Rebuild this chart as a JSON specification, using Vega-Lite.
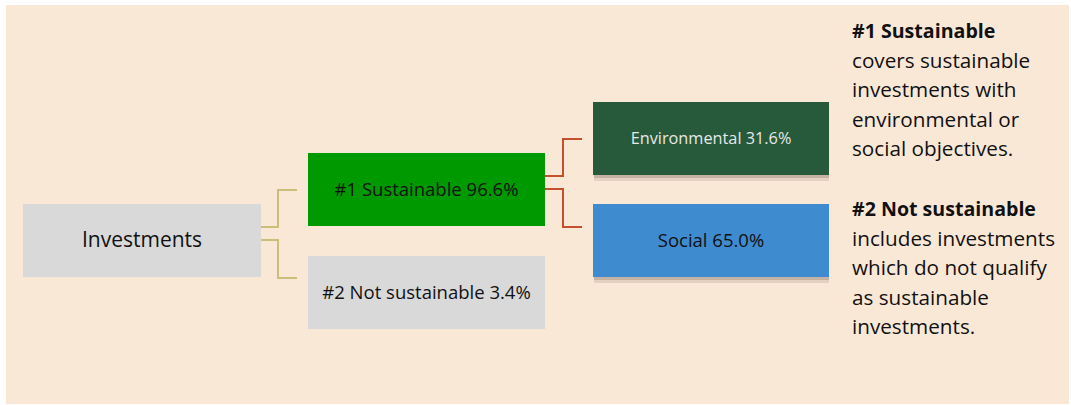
{
  "$schema": "https://vega.github.io/schema/vega-lite/v6.json",
  "width": 1071,
  "height": 405,
  "autosize": {"type": "fit", "contains": "padding"},
  "padding": 0,
  "background": "#ffffff",
  "config": {"view": {"stroke": null}, "font": "Open Sans"},
  "datasets": {
    "panel": [{"x": 6, "x2": 1069, "y": 5, "y2": 404}],
    "boxes": [
      {"node": "Investments", "label": "Investments", "x": 23, "x2": 261, "y": 204, "y2": 277},
      {"node": "Sustainable", "label": "#1 Sustainable 96.6%", "x": 308, "x2": 545, "y": 153, "y2": 226},
      {"node": "NotSustainable", "label": "#2 Not sustainable 3.4%", "x": 308, "x2": 545, "y": 256, "y2": 329},
      {"node": "Environmental", "label": "Environmental 31.6%", "x": 593, "x2": 829, "y": 102, "y2": 175},
      {"node": "Social", "label": "Social 65.0%", "x": 593, "x2": 829, "y": 204, "y2": 277}
    ],
    "links": [
      {"link": "a", "kind": "level1", "i": 1, "x": 261, "y": 227},
      {"link": "a", "kind": "level1", "i": 2, "x": 278, "y": 227},
      {"link": "a", "kind": "level1", "i": 3, "x": 278, "y": 190},
      {"link": "a", "kind": "level1", "i": 4, "x": 296, "y": 190},
      {"link": "b", "kind": "level1", "i": 1, "x": 261, "y": 240},
      {"link": "b", "kind": "level1", "i": 2, "x": 278, "y": 240},
      {"link": "b", "kind": "level1", "i": 3, "x": 278, "y": 278},
      {"link": "b", "kind": "level1", "i": 4, "x": 296, "y": 278},
      {"link": "c", "kind": "level2", "i": 1, "x": 545, "y": 176},
      {"link": "c", "kind": "level2", "i": 2, "x": 563, "y": 176},
      {"link": "c", "kind": "level2", "i": 3, "x": 563, "y": 139},
      {"link": "c", "kind": "level2", "i": 4, "x": 581, "y": 139},
      {"link": "d", "kind": "level2", "i": 1, "x": 545, "y": 189},
      {"link": "d", "kind": "level2", "i": 2, "x": 563, "y": 189},
      {"link": "d", "kind": "level2", "i": 3, "x": 563, "y": 227},
      {"link": "d", "kind": "level2", "i": 4, "x": 581, "y": 227}
    ],
    "notes": [
      {"role": "heading", "text": "#1 Sustainable", "x": 852, "y": 32},
      {"role": "body", "text": "covers sustainable", "x": 852, "y": 61.5},
      {"role": "body", "text": "investments with", "x": 852, "y": 91},
      {"role": "body", "text": "environmental or", "x": 852, "y": 120.5},
      {"role": "body", "text": "social objectives.", "x": 852, "y": 150},
      {"role": "heading", "text": "#2 Not sustainable", "x": 852, "y": 210},
      {"role": "body", "text": "includes investments", "x": 852, "y": 239.5},
      {"role": "body", "text": "which do not qualify", "x": 852, "y": 269},
      {"role": "body", "text": "as sustainable", "x": 852, "y": 298.5},
      {"role": "body", "text": "investments.", "x": 852, "y": 328}
    ]
  },
  "encoding": {
    "x": {"field": "x", "type": "quantitative", "scale": {"domain": [0, 1071], "nice": false, "zero": false}, "axis": null},
    "y": {"field": "y", "type": "quantitative", "scale": {"domain": [0, 405], "nice": false, "zero": false, "reverse": true}, "axis": null}
  },
  "layer": [
    {
      "data": {"name": "panel"},
      "mark": {"type": "rect", "color": "#FAE8D7"},
      "encoding": {"x2": {"field": "x2"}, "y2": {"field": "y2"}}
    },
    {
      "data": {"name": "links"},
      "mark": {"type": "line", "strokeWidth": 2, "strokeCap": "square", "strokeJoin": "miter"},
      "encoding": {
        "detail": {"field": "link"},
        "order": {"field": "i", "type": "quantitative"},
        "color": {"field": "kind", "type": "nominal", "scale": {"domain": ["level1", "level2"], "range": ["#CBBD7A", "#C4502E"]}, "legend": null}
      }
    },
    {
      "data": {"name": "boxes"},
      "transform": [{"filter": "datum.node === 'Environmental' || datum.node === 'Social'"}],
      "mark": {"type": "rect", "color": "#8a7a6a", "opacity": 0.2, "xOffset": 1, "yOffset": 6, "x2Offset": 0, "y2Offset": 6},
      "encoding": {"x2": {"field": "x2"}, "y2": {"field": "y2"}}
    },
    {
      "data": {"name": "boxes"},
      "transform": [{"filter": "datum.node === 'Environmental' || datum.node === 'Social'"}],
      "mark": {"type": "rect", "color": "#8a7a6a", "opacity": 0.35, "xOffset": 1, "yOffset": 3, "x2Offset": 0, "y2Offset": 3},
      "encoding": {"x2": {"field": "x2"}, "y2": {"field": "y2"}}
    },
    {
      "data": {"name": "boxes"},
      "mark": {"type": "rect"},
      "encoding": {
        "x2": {"field": "x2"},
        "y2": {"field": "y2"},
        "color": {"field": "node", "type": "nominal", "scale": {"domain": ["Investments", "Sustainable", "NotSustainable", "Environmental", "Social"], "range": ["#D9D9D9", "#009900", "#D9D9D9", "#265A3B", "#3F8BD0"]}, "legend": null}
      }
    },
    {
      "data": {"name": "boxes"},
      "transform": [
        {"filter": "datum.node === 'Investments'"},
        {"calculate": "(datum.x + datum.x2) / 2", "as": "cx"},
        {"calculate": "(datum.y + datum.y2) / 2", "as": "cy"}
      ],
      "mark": {"type": "text", "align": "center", "baseline": "middle", "fontSize": 21, "color": "#111111"},
      "encoding": {"x": {"field": "cx", "type": "quantitative"}, "y": {"field": "cy", "type": "quantitative"}, "text": {"field": "label"}}
    },
    {
      "data": {"name": "boxes"},
      "transform": [
        {"filter": "datum.node === 'Sustainable' || datum.node === 'NotSustainable' || datum.node === 'Social'"},
        {"calculate": "(datum.x + datum.x2) / 2", "as": "cx"},
        {"calculate": "(datum.y + datum.y2) / 2", "as": "cy"}
      ],
      "mark": {"type": "text", "align": "center", "baseline": "middle", "fontSize": 18.5, "color": "#111111"},
      "encoding": {"x": {"field": "cx", "type": "quantitative"}, "y": {"field": "cy", "type": "quantitative"}, "text": {"field": "label"}}
    },
    {
      "data": {"name": "boxes"},
      "transform": [
        {"filter": "datum.node === 'Environmental'"},
        {"calculate": "(datum.x + datum.x2) / 2", "as": "cx"},
        {"calculate": "(datum.y + datum.y2) / 2", "as": "cy"}
      ],
      "mark": {"type": "text", "align": "center", "baseline": "middle", "fontSize": 16.3, "color": "#E8E8E8"},
      "encoding": {"x": {"field": "cx", "type": "quantitative"}, "y": {"field": "cy", "type": "quantitative"}, "text": {"field": "label"}}
    },
    {
      "data": {"name": "notes"},
      "transform": [{"filter": "datum.role === 'heading'"}],
      "mark": {"type": "text", "align": "left", "baseline": "middle", "fontSize": 19.6, "fontWeight": "bold", "color": "#111111"},
      "encoding": {"text": {"field": "text"}}
    },
    {
      "data": {"name": "notes"},
      "transform": [{"filter": "datum.role === 'body'"}],
      "mark": {"type": "text", "align": "left", "baseline": "middle", "fontSize": 20.7, "color": "#111111"},
      "encoding": {"text": {"field": "text"}}
    }
  ],
  "resolve": {"scale": {"color": "independent"}}
}
